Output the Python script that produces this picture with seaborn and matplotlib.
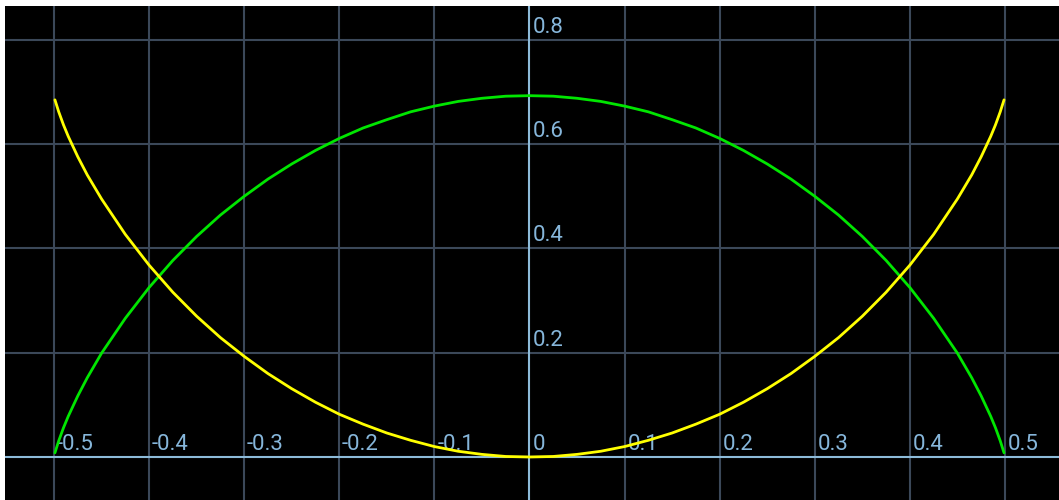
import matplotlib
matplotlib.use("Agg")
import matplotlib.pyplot as plt
import seaborn as sns
import pandas as pd

# Sample positions (p - 0.5) and the two curves: entropy (nats) and its complement
x_pos = [0.0, 0.025, 0.05, 0.075, 0.1, 0.125, 0.15, 0.175, 0.2, 0.225, 0.25, 0.275,
         0.3, 0.325, 0.35, 0.375, 0.4, 0.425, 0.45, 0.465, 0.475, 0.485, 0.49, 0.495, 0.499]
green_pos = [0.693, 0.692, 0.688, 0.682, 0.673, 0.662, 0.647, 0.631, 0.611, 0.588, 0.562, 0.533,
             0.500, 0.464, 0.423, 0.377, 0.325, 0.266, 0.199, 0.152, 0.117, 0.078, 0.056, 0.031, 0.008]
yellow_pos = [0.000, 0.001, 0.005, 0.011, 0.020, 0.032, 0.046, 0.063, 0.082, 0.105, 0.131, 0.160,
              0.193, 0.229, 0.270, 0.316, 0.368, 0.427, 0.495, 0.541, 0.576, 0.615, 0.637, 0.662, 0.685]

x_vals = [-v for v in x_pos[:0:-1]] + x_pos
green_vals = green_pos[:0:-1] + green_pos
yellow_vals = yellow_pos[:0:-1] + yellow_pos

x_ticks = [-0.5, -0.4, -0.3, -0.2, -0.1, 0.0, 0.1, 0.2, 0.3, 0.4, 0.5]
x_tick_labels = ["-0.5", "-0.4", "-0.3", "-0.2", "-0.1", "0", "0.1", "0.2", "0.3", "0.4", "0.5"]
y_ticks = [0.2, 0.4, 0.6, 0.8]
y_tick_labels = ["0.2", "0.4", "0.6", "0.8"]

df = pd.DataFrame({"x": x_vals, "green": green_vals, "yellow": yellow_vals})

sns.set_style("dark")
plt.rcParams["font.family"] = ["Roboto", "DejaVu Sans"]

fig = plt.figure(figsize=(10.59, 5.0), dpi=100, facecolor="white")
ax = fig.add_axes([5 / 1059, 0.0, 1054 / 1059, 494 / 500])
ax.set_facecolor("black")

grid_color = "#3b4859"
axis_color = "#8dbbd9"
label_color = "#86b6da"

ax.set_xlim(-0.5515, 0.5568)
ax.set_ylim(-0.0825, 0.865)

for xv in x_ticks:
    if xv != 0:
        ax.axvline(xv, color=grid_color, lw=1.5, zorder=1)
for yv in y_ticks:
    ax.axhline(yv, color=grid_color, lw=1.5, zorder=1)
ax.axvline(0, color=axis_color, lw=1.5, zorder=2)
ax.axhline(0, color=axis_color, lw=1.5, zorder=2)

for xv, lab in zip(x_ticks, x_tick_labels):
    ax.annotate(lab, (xv, 0), xytext=(2, 1.5), textcoords="offset points",
                ha="left", va="bottom", color=label_color, fontsize=16, zorder=3)
for yv, lab in zip(y_ticks, y_tick_labels):
    ax.annotate(lab, (0, yv), xytext=(2, 1.5), textcoords="offset points",
                ha="left", va="bottom", color=label_color, fontsize=16, zorder=3)

sns.lineplot(data=df, x="x", y="green", ax=ax, color="#00e600", lw=2.0, zorder=4)
sns.lineplot(data=df, x="x", y="yellow", ax=ax, color="#ffff00", lw=2.0, zorder=5)

ax.set_xticks([])
ax.set_yticks([])
ax.set_xlabel("")
ax.set_ylabel("")
for s in ax.spines.values():
    s.set_visible(False)

fig.savefig("out.png", dpi=100, facecolor="white")
